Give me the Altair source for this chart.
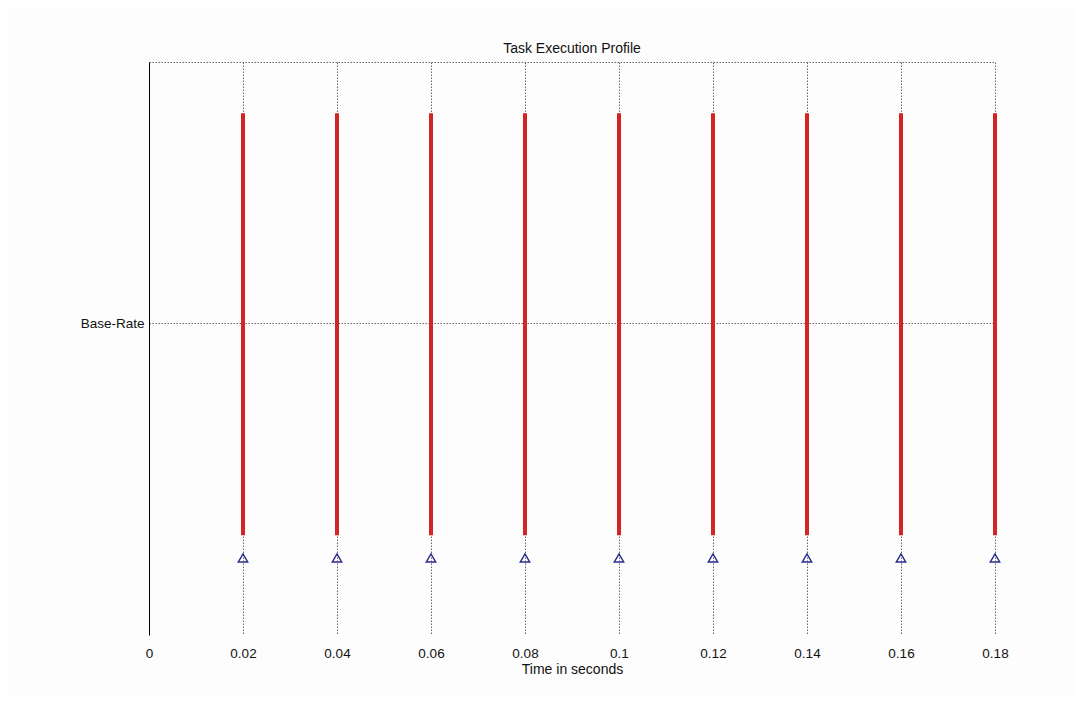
import altair as alt
import pandas as pd

# Data
times = [0.02, 0.04, 0.06, 0.08, 0.10, 0.12, 0.14, 0.16, 0.18]
bar_start = [0.32, 0.32, 0.32, 0.32, 0.32, 0.32, 0.32, 0.32, 0.32]
bar_end = [1.673, 1.673, 1.673, 1.673, 1.673, 1.673, 1.673, 1.673, 1.673]
marker_y = [0.247, 0.247, 0.247, 0.247, 0.247, 0.247, 0.247, 0.247, 0.247]
x_ticks = [0, 0.02, 0.04, 0.06, 0.08, 0.1, 0.12, 0.14, 0.16, 0.18]
y_top = 1.837
task_level = 1.0
task_label = "Base-Rate"

df = pd.DataFrame({"t": times, "y0": bar_start, "y1": bar_end, "m": marker_y})

x_scale = alt.Scale(domain=[0, 0.18], nice=False, zero=False)
y_scale = alt.Scale(domain=[0, y_top], nice=False, zero=False)

FONT = "Liberation Sans"
GRID = "#666"
DASH = [1.5, 1.5]

base = alt.Chart(df)

axes = base.mark_point(opacity=0).encode(
    x=alt.X("t:Q", scale=x_scale,
            axis=alt.Axis(values=x_ticks, title="Time in seconds", grid=True,
                          gridDash=DASH, gridColor=GRID, gridWidth=1,
                          domain=False, ticks=False, labelFontSize=13.5,
                          labelColor="#111", labelFont=FONT, titleFont=FONT,
                          titleFontSize=14, titleFontWeight="normal",
                          titleColor="#111", labelPadding=11, titlePadding=3,
                          labelFlush=False,
                          labelExpr="datum.value == 0 ? '0' : format(datum.value, '.2~f')")),
    y=alt.Y("m:Q", scale=y_scale,
            axis=alt.Axis(values=[task_level, y_top], title=None, grid=True,
                          gridDash=DASH, gridColor=GRID, gridWidth=1,
                          domain=True, domainColor="#000", domainWidth=1,
                          ticks=False, labelFontSize=13.5, labelColor="#111",
                          labelFont=FONT, labelPadding=5,
                          labelExpr=f"datum.value == {task_level} ? '{task_label}' : ''")),
)

bars = base.mark_rule(color="#d42424", strokeWidth=4).encode(
    x=alt.X("t:Q", scale=x_scale),
    y=alt.Y("y0:Q", scale=y_scale),
    y2="y1:Q",
)

markers = base.mark_point(shape="triangle-up", filled=False, color="#2d2d8f",
                          size=90, strokeWidth=1.4, opacity=1).encode(
    x=alt.X("t:Q", scale=x_scale),
    y=alt.Y("m:Q", scale=y_scale),
)

chart = alt.layer(axes, bars, markers).properties(
    width=846,
    height=573,
    title=alt.TitleParams("Task Execution Profile", font=FONT, fontSize=14,
                          fontWeight="normal", color="#111", offset=6),
    autosize=alt.AutoSizeParams(type="none"),
    padding={"left": 141, "top": 54, "right": 80, "bottom": 60},
    background="#fdfdfd",
).configure_view(stroke=None)

chart.save("out.html", embed_options={"renderer": "svg", "actions": False})
